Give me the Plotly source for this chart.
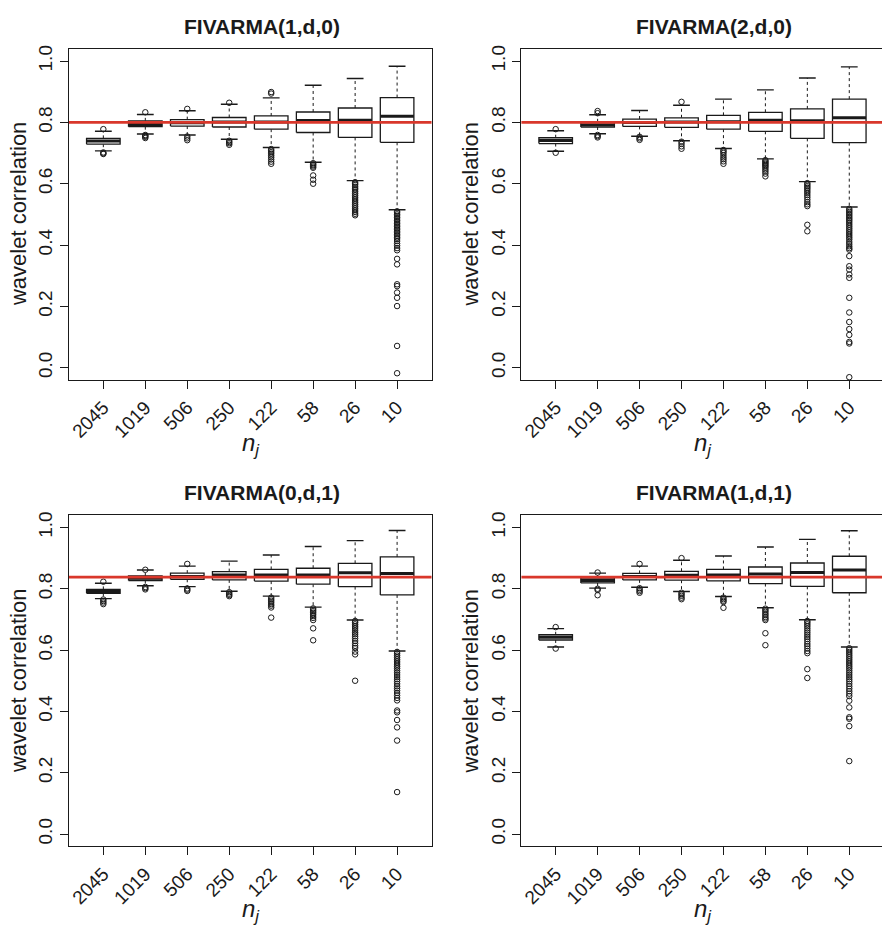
import plotly.graph_objects as go

# ---------------- data ----------------
categories = ["2045", "1019", "506", "250", "122", "58", "26", "10"]
panel_titles = ["FIVARMA(1,d,0)", "FIVARMA(2,d,0)", "FIVARMA(0,d,1)", "FIVARMA(1,d,1)"]
true_values = [0.80, 0.80, 0.838, 0.838]

# panel 1: FIVARMA(1,d,0)
p1_q1 = [0.729, 0.786, 0.788, 0.785, 0.778, 0.767, 0.751, 0.735]
p1_med = [0.739, 0.793, 0.799, 0.801, 0.801, 0.806, 0.807, 0.820]
p1_q3 = [0.748, 0.805, 0.809, 0.816, 0.821, 0.834, 0.847, 0.881]
p1_lo = [0.707, 0.762, 0.759, 0.745, 0.718, 0.670, 0.610, 0.515]
p1_hi = [0.771, 0.826, 0.838, 0.859, 0.880, 0.921, 0.943, 0.983]
p1_out = [
    [0.778, 0.702, 0.699, 0.697],
    [0.833, 0.759, 0.756, 0.753, 0.749],
    [0.844, 0.754, 0.748, 0.742],
    [0.864, 0.740, 0.736, 0.732, 0.727],
    [0.899, 0.894, 0.713, 0.708, 0.703, 0.698, 0.692, 0.686, 0.679, 0.672, 0.665],
    [0.667, 0.663, 0.660, 0.656, 0.652, 0.627, 0.613, 0.600],
    [0.605, 0.600, 0.596, 0.590, 0.585, 0.580, 0.574, 0.568, 0.562, 0.556, 0.550,
     0.544, 0.538, 0.532, 0.526, 0.520, 0.514, 0.508, 0.502, 0.497],
    [0.510, 0.505, 0.500, 0.495, 0.490, 0.485, 0.480, 0.475, 0.470, 0.465, 0.460,
     0.455, 0.450, 0.445, 0.440, 0.435, 0.430, 0.425, 0.420, 0.413, 0.405, 0.398,
     0.390, 0.383, 0.355, 0.337, 0.272, 0.266, 0.245, 0.228, 0.201, 0.071, -0.018],
]

# panel 2: FIVARMA(2,d,0)
p2_q1 = [0.731, 0.785, 0.787, 0.784, 0.778, 0.771, 0.748, 0.734]
p2_med = [0.741, 0.792, 0.800, 0.801, 0.802, 0.807, 0.805, 0.815]
p2_q3 = [0.750, 0.802, 0.811, 0.815, 0.823, 0.833, 0.844, 0.876]
p2_lo = [0.706, 0.763, 0.755, 0.740, 0.715, 0.681, 0.607, 0.524]
p2_hi = [0.773, 0.825, 0.839, 0.856, 0.876, 0.906, 0.945, 0.981]
p2_out = [
    [0.778, 0.701],
    [0.837, 0.830, 0.759, 0.755, 0.751],
    [0.753, 0.748, 0.743],
    [0.867, 0.737, 0.730, 0.722, 0.714],
    [0.710, 0.705, 0.700, 0.693, 0.686, 0.680, 0.673, 0.665],
    [0.677, 0.673, 0.669, 0.665, 0.661, 0.657, 0.652, 0.646, 0.640, 0.633, 0.624],
    [0.602, 0.597, 0.592, 0.587, 0.582, 0.576, 0.570, 0.563, 0.556, 0.548, 0.540,
     0.533, 0.527, 0.466, 0.445],
    [0.518, 0.513, 0.508, 0.503, 0.498, 0.493, 0.488, 0.483, 0.478, 0.472, 0.466,
     0.460, 0.454, 0.448, 0.442, 0.436, 0.430, 0.424, 0.418, 0.410, 0.403, 0.396,
     0.390, 0.385, 0.364, 0.331, 0.320, 0.304, 0.293, 0.228, 0.180, 0.149, 0.126,
     0.107, 0.084, 0.079, -0.031],
]

# panel 3: FIVARMA(0,d,1)
p3_q1 = [0.785, 0.827, 0.831, 0.829, 0.825, 0.815, 0.807, 0.780]
p3_med = [0.791, 0.834, 0.840, 0.845, 0.845, 0.845, 0.852, 0.850]
p3_q3 = [0.798, 0.842, 0.851, 0.856, 0.863, 0.867, 0.883, 0.904]
p3_lo = [0.768, 0.810, 0.807, 0.792, 0.776, 0.740, 0.698, 0.597]
p3_hi = [0.818, 0.861, 0.874, 0.890, 0.910, 0.938, 0.957, 0.990]
p3_out = [
    [0.823, 0.765, 0.760, 0.755, 0.750],
    [0.862, 0.806, 0.802, 0.798],
    [0.881, 0.801, 0.797, 0.793],
    [0.789, 0.784, 0.780, 0.776],
    [0.771, 0.766, 0.761, 0.756, 0.750, 0.745, 0.739, 0.706],
    [0.736, 0.731, 0.727, 0.722, 0.717, 0.711, 0.705, 0.698, 0.671, 0.632],
    [0.695, 0.690, 0.684, 0.678, 0.672, 0.665, 0.658, 0.652, 0.645, 0.638, 0.630,
     0.622, 0.614, 0.607, 0.595, 0.586, 0.500],
    [0.594, 0.588, 0.582, 0.576, 0.570, 0.564, 0.558, 0.552, 0.546, 0.540, 0.533,
     0.526, 0.519, 0.512, 0.505, 0.498, 0.490, 0.482, 0.475, 0.468, 0.460, 0.452,
     0.444, 0.436, 0.403, 0.397, 0.372, 0.348, 0.305, 0.137],
]

# panel 4: FIVARMA(1,d,1)
p4_q1 = [0.633, 0.819, 0.829, 0.828, 0.826, 0.817, 0.808, 0.787]
p4_med = [0.642, 0.827, 0.840, 0.844, 0.845, 0.848, 0.853, 0.861]
p4_q3 = [0.650, 0.835, 0.850, 0.857, 0.863, 0.871, 0.884, 0.906]
p4_lo = [0.610, 0.802, 0.805, 0.791, 0.775, 0.738, 0.699, 0.610]
p4_hi = [0.670, 0.851, 0.874, 0.893, 0.907, 0.936, 0.961, 0.989]
p4_out = [
    [0.675, 0.605],
    [0.853, 0.800, 0.796, 0.779],
    [0.881, 0.802, 0.797, 0.792, 0.787],
    [0.900, 0.787, 0.782, 0.777, 0.771, 0.766],
    [0.771, 0.766, 0.761, 0.757, 0.738],
    [0.735, 0.730, 0.725, 0.719, 0.714, 0.708, 0.703, 0.698, 0.655, 0.616],
    [0.695, 0.690, 0.684, 0.678, 0.671, 0.664, 0.657, 0.650, 0.643, 0.636, 0.628,
     0.620, 0.613, 0.605, 0.597, 0.590, 0.538, 0.509],
    [0.606, 0.600, 0.594, 0.588, 0.582, 0.576, 0.570, 0.564, 0.558, 0.552, 0.546,
     0.540, 0.533, 0.526, 0.519, 0.512, 0.505, 0.498, 0.490, 0.482, 0.474, 0.466,
     0.458, 0.450, 0.435, 0.413, 0.381, 0.376, 0.352, 0.238],
]

y_tick_vals = [0.0, 0.2, 0.4, 0.6, 0.8, 1.0]
y_tick_text = ["0.0", "0.2", "0.4", "0.6", "0.8", "1.0"]

panels = [
    (p1_q1, p1_med, p1_q3, p1_lo, p1_hi, p1_out),
    (p2_q1, p2_med, p2_q3, p2_lo, p2_hi, p2_out),
    (p3_q1, p3_med, p3_q3, p3_lo, p3_hi, p3_out),
    (p4_q1, p4_med, p4_q3, p4_lo, p4_hi, p4_out),
]

# ---------------- layout geometry ----------------
W, H = 882, 926
FONT = "Liberation Sans, Arial, Helvetica, sans-serif"
INK = "#1a1a1a"
RED = "#D9372B"
BOX_HALF = 0.4
CAP_HALF = 0.2

# pixel boxes (left, right, top, bottom) of each plotting region
regions = [
    (68, 431, 45.0, 377.6),
    (521, 882, 45.0, 377.6),
    (68, 431, 513.4, 846.0),
    (521, 882, 513.4, 846.0),
]
x_ranges = [[0.18, 8.82], [0.183, 8.78], [0.18, 8.82], [0.183, 8.78]]
title_pos = [(261, 23), (714, 23), (261, 491), (714, 491)]
ytitle_pos = [(17, 211), (470, 211), (17, 680), (470, 680)]
xtitle_pos = [(250, 442), (703, 442), (250, 910), (703, 910)]

fig = go.Figure()
annotations = []
shapes = []
positions = list(range(1, len(categories) + 1))

for k, (q1, med, q3, lo, hi, outs) in enumerate(panels):
    xa = "x" if k == 0 else f"x{k+1}"
    ya = "y" if k == 0 else f"y{k+1}"

    # whiskers (dashed)
    wx, wy = [], []
    for p, a, b, c, d in zip(positions, q3, hi, q1, lo):
        wx += [p, p, None, p, p, None]
        wy += [a, b, None, c, d, None]
    fig.add_trace(go.Scatter(x=wx, y=wy, mode="lines", xaxis=xa, yaxis=ya,
                             line=dict(color=INK, width=1, dash="3px,3px"),
                             hoverinfo="skip"))
    # caps
    cx, cy = [], []
    for p, b, d in zip(positions, hi, lo):
        cx += [p - CAP_HALF, p + CAP_HALF, None, p - CAP_HALF, p + CAP_HALF, None]
        cy += [b, b, None, d, d, None]
    fig.add_trace(go.Scatter(x=cx, y=cy, mode="lines", xaxis=xa, yaxis=ya,
                             line=dict(color=INK, width=1.4), hoverinfo="skip"))
    # boxes
    bx, by = [], []
    for p, a, c in zip(positions, q3, q1):
        bx += [p - BOX_HALF, p + BOX_HALF, p + BOX_HALF, p - BOX_HALF, p - BOX_HALF, None]
        by += [c, c, a, a, c, None]
    fig.add_trace(go.Scatter(x=bx, y=by, mode="lines", xaxis=xa, yaxis=ya,
                             fill="toself", fillcolor="white",
                             line=dict(color=INK, width=1.3), hoverinfo="skip"))
    # medians
    mx, my = [], []
    for p, m in zip(positions, med):
        mx += [p - BOX_HALF, p + BOX_HALF, None]
        my += [m, m, None]
    fig.add_trace(go.Scatter(x=mx, y=my, mode="lines", xaxis=xa, yaxis=ya,
                             line=dict(color=INK, width=3), hoverinfo="skip"))
    # outliers
    ox, oy = [], []
    for p, vals in zip(positions, outs):
        ox += [p] * len(vals)
        oy += vals
    fig.add_trace(go.Scatter(x=ox, y=oy, mode="markers", xaxis=xa, yaxis=ya,
                             marker=dict(symbol="circle-open", size=5.5,
                                         color=INK, line=dict(width=1)),
                             hoverinfo="skip"))

    # reference line
    shapes.append(dict(type="line", xref=f"{xa} domain", yref=ya,
                       x0=0, x1=1, y0=true_values[k], y1=true_values[k],
                       line=dict(color=RED, width=2.6), layer="above"))

    L, R, T, B = regions[k]
    axis_common = dict(showgrid=False, zeroline=False, showline=True,
                       linecolor=INK, linewidth=1.3, ticks="outside",
                       ticklen=8, tickwidth=1.2, tickcolor=INK,
                       tickfont=dict(family=FONT, size=19, color=INK))
    fig.update_layout(**{
        ("xaxis" if k == 0 else f"xaxis{k+1}"): dict(
            domain=[L / W, R / W], anchor=ya, range=x_ranges[k],
            tickvals=positions, ticktext=categories, tickangle=-45,
            mirror=True, **axis_common),
        ("yaxis" if k == 0 else f"yaxis{k+1}"): dict(
            domain=[1 - B / H, 1 - T / H], anchor=xa, range=[-0.04, 1.04],
            tickvals=y_tick_vals, ticktext=y_tick_text, tickangle=-90,
            mirror=(k % 2 == 0), **axis_common),
    })

    tx, ty = title_pos[k]
    annotations.append(dict(text=f"<b>{panel_titles[k]}</b>", xref="paper", yref="paper",
                            x=tx / W, y=1 - ty / H, xanchor="center", yanchor="middle",
                            showarrow=False, font=dict(family=FONT, size=21, color=INK)))
    yx, yy = ytitle_pos[k]
    annotations.append(dict(text="wavelet correlation", xref="paper", yref="paper",
                            x=yx / W, y=1 - yy / H, xanchor="center", yanchor="middle",
                            textangle=-90, showarrow=False,
                            font=dict(family=FONT, size=22, color=INK)))
    nx, ny = xtitle_pos[k]
    annotations.append(dict(text="<i>n</i><sub><i>j</i></sub>", xref="paper", yref="paper",
                            x=nx / W, y=1 - ny / H, xanchor="center", yanchor="middle",
                            showarrow=False, font=dict(family=FONT, size=24, color=INK)))

fig.update_layout(width=W, height=H, margin=dict(l=0, r=0, t=0, b=0),
                  paper_bgcolor="white", plot_bgcolor="white", showlegend=False,
                  annotations=annotations, shapes=shapes)

fig.write_html("out.html")
